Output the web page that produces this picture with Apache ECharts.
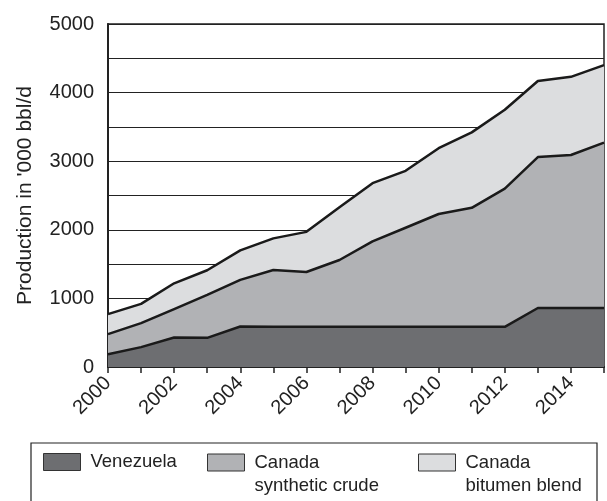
<!DOCTYPE html>
<html>
<head>
<meta charset="utf-8">
<script src="https://cdn.jsdelivr.net/npm/echarts@6/dist/echarts.min.js"></script>
<style>html,body{margin:0;padding:0;background:#fff;}#c{width:607px;height:501px;}</style>
</head>
<body>
<div id="c"></div>
<script>
var years = ['2000','2001','2002','2003','2004','2005','2006','2007','2008','2009','2010','2011','2012','2013','2014','2015'];
var venezuela = [185,290,430,425,590,585,585,585,585,585,585,585,585,860,860,860];
var syntheticCrude = [295,350,415,625,680,830,800,975,1245,1445,1645,1735,2015,2200,2230,2410];
var bitumenBlend = [290,280,375,360,430,460,585,770,850,830,960,1100,1150,1110,1140,1130];
var yTicks = [0,1000,2000,3000,4000,5000];

var FONT = 'Liberation Sans, Arial, sans-serif';
var LH = 23;
var chart = echarts.init(document.getElementById('c'));
function legendFor(name, left, label) {
  var multi = label.indexOf('\n') >= 0;
  return {
    data: [name], left: left, top: multi ? 454 - 26 : 450.5, padding: 0,
    itemWidth: 37, itemHeight: 17, itemGap: 0,
    icon: 'rect', formatter: function(){ return multi ? ' \n' + label : label; },
    itemStyle: {borderColor: '#333', borderWidth: 1},
    textStyle: {fontFamily: FONT, fontSize: 18.5, color: '#222', lineHeight: LH,
      padding: [0,0,0,5]},
    selectedMode: false
  };
}
chart.setOption({
  animation: false,
  grid: {left: 108, right: 3, top: 24, bottom: 134, show: true, borderColor: '#222', borderWidth: 1.5, backgroundColor: 'transparent'},
  legend: [
    legendFor('Venezuela', 43, 'Venezuela'),
    legendFor('Canada synthetic crude', 207, 'Canada\nsynthetic crude'),
    legendFor('Canada bitumen blend', 418, 'Canada\nbitumen blend')
  ],
  graphic: [{type: 'rect', shape: {x: 31, y: 443, width: 566, height: 70}, style: {fill: 'none', stroke: '#222', lineWidth: 1.2}, silent: true}],
  xAxis: {
    type: 'category', data: years, boundaryGap: false,
    axisLine: {lineStyle: {color: '#222', width: 2}},
    axisTick: {show: true, interval: 0, length: 6, lineStyle: {color: '#222', width: 1.5}},
    axisLabel: {interval: 1, rotate: 45, fontFamily: FONT, fontSize: 20, color: '#222', margin: 13},
    splitLine: {show: false}
  },
  yAxis: {
    type: 'value', min: 0, max: 5000, interval: 500,
    name: "Production in '000 bbl/d", nameLocation: 'middle', nameGap: 72,
    nameTextStyle: {fontFamily: FONT, fontSize: 21, color: '#222'},
    axisLine: {show: true, lineStyle: {color: '#222', width: 2}},
    axisTick: {show: false},
    axisLabel: {fontFamily: FONT, fontSize: 20, color: '#222', margin: 14,
      formatter: function(v){ return yTicks.indexOf(v) >= 0 ? String(v) : ''; }},
    splitLine: {show: true, lineStyle: {color: '#222', width: 1.2}}
  },
  series: [
    {name: 'Venezuela', type: 'line', stack: 'a', data: venezuela, symbol: 'none',
     lineStyle: {color: '#1a1a1a', width: 2.5}, itemStyle: {color: '#6d6e71'},
     areaStyle: {color: '#6d6e71', opacity: 1}},
    {name: 'Canada synthetic crude', type: 'line', stack: 'a', data: syntheticCrude, symbol: 'none',
     lineStyle: {color: '#1a1a1a', width: 2.5}, itemStyle: {color: '#b1b2b5'},
     areaStyle: {color: '#b1b2b5', opacity: 1}},
    {name: 'Canada bitumen blend', type: 'line', stack: 'a', data: bitumenBlend, symbol: 'none',
     lineStyle: {color: '#1a1a1a', width: 2.5}, itemStyle: {color: '#dcdddf'},
     areaStyle: {color: '#dcdddf', opacity: 1}}
  ]
});
</script>
</body>
</html>
